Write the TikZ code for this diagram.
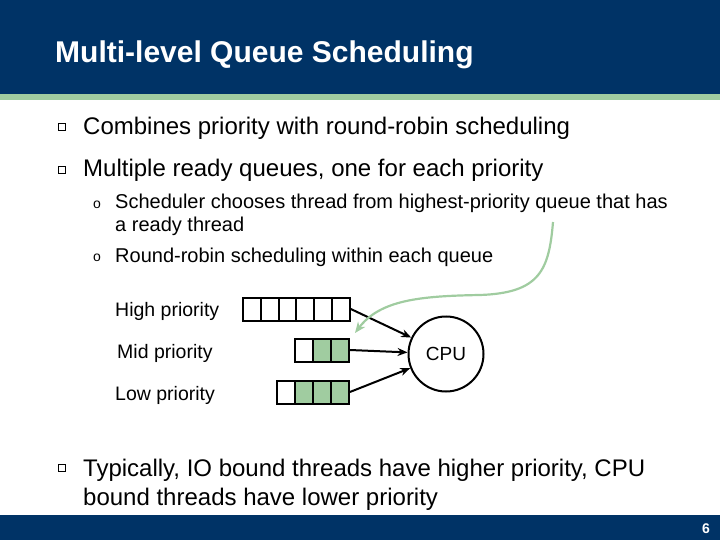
\documentclass[tikz,border=0pt]{standalone}
\usepackage{fontspec}
\setmainfont{Liberation Sans}
\usetikzlibrary{arrows.meta}
\definecolor{hdrblue}{RGB}{0,51,102}
\definecolor{stripe}{RGB}{160,204,160}
\definecolor{cellgreen}{RGB}{160,204,160}
\definecolor{curvegreen}{RGB}{160,204,160}
\tikzset{
  txt/.style={anchor=base west, inner sep=0pt, text=black},
  lvlone/.style={txt, font=\fontsize{24}{28}\selectfont},
  lvltwo/.style={txt, font=\fontsize{20}{24}\selectfont},
  qlabel/.style={txt, font=\fontsize{19.5}{23}\selectfont},
  sqbullet/.style={draw=black, line width=0.9pt, minimum size=6.5pt, inner sep=0pt, fill=white},
  subbullet/.style={txt, font=\fontsize{14}{16}\selectfont},
  cell/.style={draw=black, line width=2pt, minimum width=17.8pt, minimum height=23pt, inner sep=0pt, fill=white},
  gcell/.style={cell, fill=cellgreen},
  conn/.style={line width=2pt, -{Stealth[length=10pt,width=8pt]}},
}
\begin{document}
\begin{tikzpicture}[x=1pt,y=-1pt]
\useasboundingbox (0,0) rectangle (720,540);
% header
\fill[hdrblue] (0,0) rectangle (720,94);
\fill[stripe] (0,94) rectangle (720,100);
\node[anchor=base west, inner sep=0pt, text=white, font=\bfseries\fontsize{30}{34}\selectfont] (title) at (55,63) {Multi-level Queue Scheduling};
% footer
\fill[hdrblue] (0,515) rectangle (720,540);
\node[anchor=base east, inner sep=0pt, text=white, font=\bfseries\fontsize{14}{16}\selectfont] (pnum) at (710,533) {6};
% bullets
\node[sqbullet] (b1) at (62,127) {};
\node[lvlone] (t1) at (83,135) {Combines priority with round-robin scheduling};
\node[sqbullet] (b2) at (62,170) {};
\node[lvlone] (t2) at (83,177) {Multiple ready queues, one for each priority};
\node[subbullet] (s1) at (93,208) {o};
\node[lvltwo] (t3) at (115,209) {Scheduler chooses thread from highest-priority queue that has};
\node[lvltwo] (t4) at (115,232) {a ready thread};
\node[subbullet] (s2) at (93,261) {o};
\node[lvltwo] (t5) at (115,262) {Round-robin scheduling within each queue};
% queue labels
\node[qlabel] (lh) at (115,316) {High priority};
\node[qlabel] (lm) at (117,358) {Mid priority};
\node[qlabel] (ll) at (115,400) {Low priority};
% high queue
\foreach \i in {0,...,5} {
  \node[cell] (h\i) at (251.9+17.8*\i,309) {};
}
% mid queue
\node[cell] (m0) at (304,350) {};
\node[gcell] (m1) at (322,350) {};
\node[gcell] (m2) at (340,350) {};
% low queue
\node[cell] (w0) at (286,392) {};
\node[gcell] (w1) at (304,392) {};
\node[gcell] (w2) at (322,392) {};
\node[gcell] (w3) at (340,392) {};
% CPU
\node[draw=black, line width=2pt, circle, minimum size=75pt, inner sep=0pt, font=\fontsize{19}{22}\selectfont] (cpu) at (446,354) {CPU};
\draw[conn] (h5.east) -- (cpu);
\draw[conn] (m2.east) -- (cpu);
\draw[conn] (w3.east) -- (cpu);
% green curve
\coordinate (gs) at (553,222);
\coordinate (ge) at (355,333);
\draw[curvegreen, line width=2.2pt, -{Stealth[length=11pt,width=9pt]}]
  (gs) .. controls (549,270) and (540,293) .. (480,295)
  .. controls (420,296) and (380,300) .. (ge);
% last bullet
\node[sqbullet] (b3) at (62,468) {};
\node[lvlone] (t6) at (83,476) {Typically, IO bound threads have higher priority, CPU};
\node[lvlone] (t7) at (83,505) {bound threads have lower priority};
\end{tikzpicture}
\end{document}
